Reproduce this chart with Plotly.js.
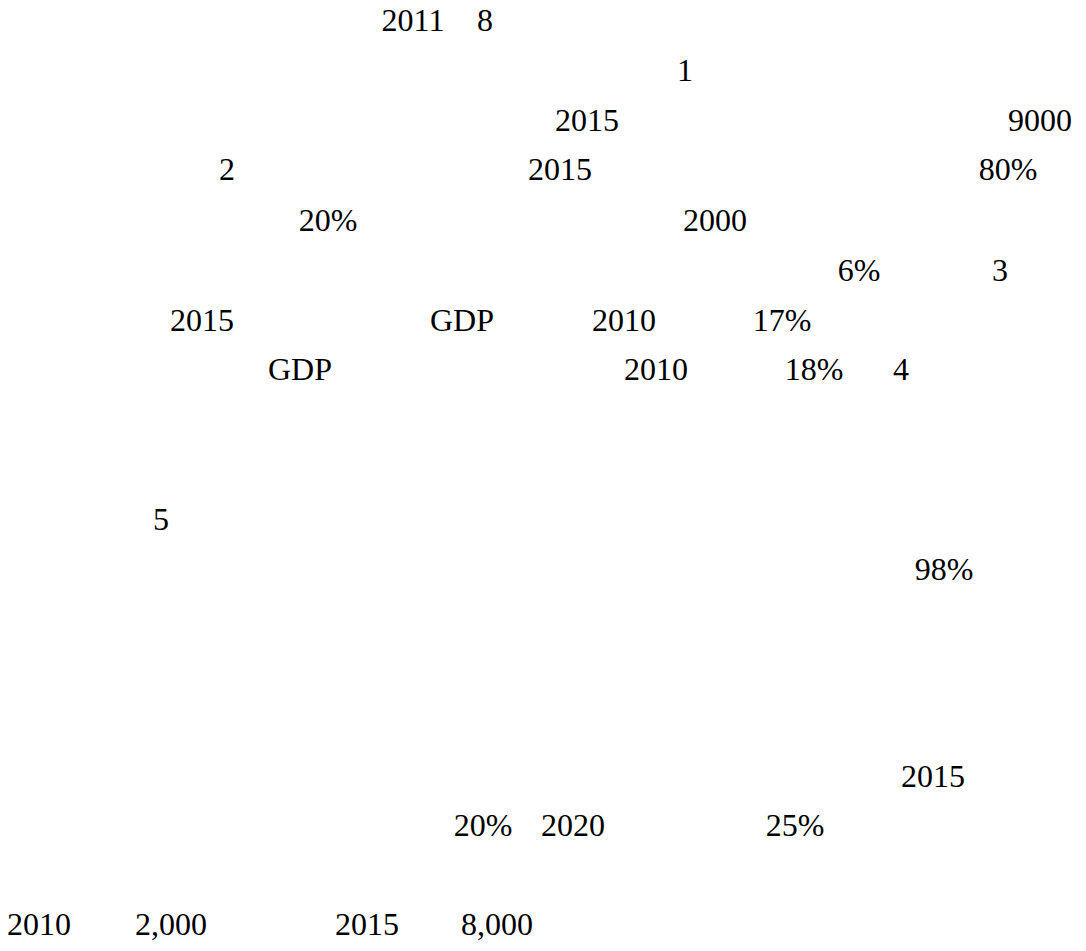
<!DOCTYPE html>
<html>
<head>
<meta charset="utf-8">
<script src="https://cdn.plot.ly/plotly-3.0.1.min.js"></script>
</head>
<body style="margin:0; background:#ffffff">
<div id="chart"></div>
<script>
// Visible text fragments of the page (reading order), their horizontal centre
// and the baseline of the line they sit on, in page units.
const tokens = [
  "2011", "8",
  "1",
  "2015", "9000",
  "2", "2015", "80%",
  "20%", "2000",
  "6%", "3",
  "2015", "GDP", "2010", "17%",
  "GDP", "2010", "18%", "4",
  "5",
  "98%",
  "2015",
  "20%", "2020", "25%",
  "2010", "2,000", "2015", "8,000"
];
const tokenCol = [
  413, 485,
  685,
  587, 1040,
  227, 560, 1008,
  328, 715,
  859, 1000,
  202, 462, 624, 782,
  300, 656, 814, 901,
  161,
  944,
  933,
  483, 573, 795,
  39, 171, 367, 497
];
const tokenLine = [
  34, 34,
  84,
  134, 134,
  183, 183, 183,
  234, 234,
  284, 284,
  334, 334, 334, 334,
  383, 383, 383, 383,
  533,
  583,
  790,
  839, 839, 839,
  938, 938, 938, 938
];

const FONT_SIZE = 32;
const MID_SHIFT = 0.35; // plotly places the baseline 0.35em below a 'middle' text anchor

// one text trace per printed line
const lines = [...new Set(tokenLine)];
const traces = lines.map(line => {
  const idx = tokenLine.map((b, i) => (b === line ? i : -1)).filter(i => i >= 0);
  return {
    type: "scatter",
    mode: "text",
    x: idx.map(i => tokenCol[i]),
    y: idx.map(i => tokenLine[i] - MID_SHIFT * FONT_SIZE),
    text: idx.map(i => tokens[i]),
    textfont: { family: "Liberation Serif", size: FONT_SIZE, color: "#000" },
    showlegend: false
  };
});

const layout = {
  width: 1086,
  height: 951,
  margin: { l: 0, r: 0, t: 0, b: 0 },
  xaxis: { range: [0, 1086], visible: false },
  yaxis: { range: [951, 0], visible: false }
};

Plotly.newPlot("chart", traces, layout, { displayModeBar: false });
</script>
</body>
</html>
